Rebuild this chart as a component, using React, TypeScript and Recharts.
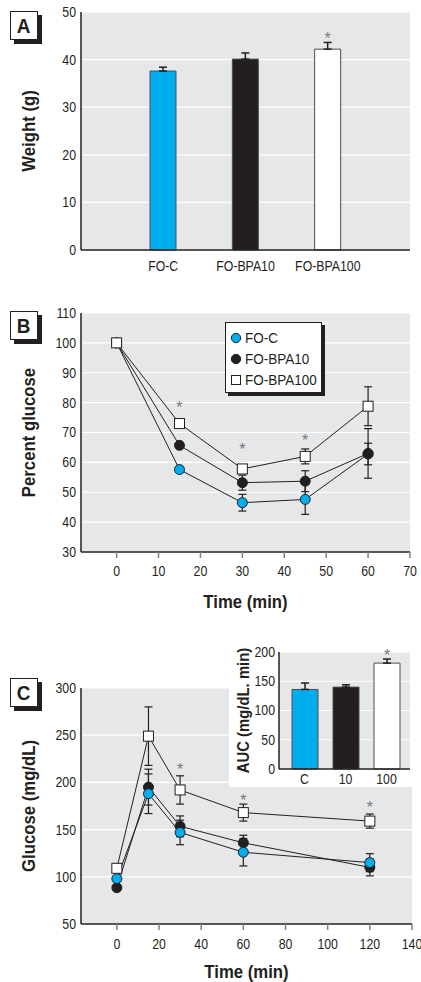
import React from "react";
import {
  Bar,
  BarChart,
  CartesianGrid,
  Cell,
  ComposedChart,
  ErrorBar,
  LabelList,
  Line,
  Scatter,
  XAxis,
  YAxis,
} from "recharts";

// no hay fuente condensada instalada: se estrecha Liberation Sans a mano
const FONT = '"Liberation Sans", Arial, sans-serif';
const SX = 0.88;
const SX_TIT = 0.93;
const INK = "#231f20";
const FONDO = "#e6e7e8";
const AZUL = "#00aeef";
const GRIS_EST = "#77787b";

// Panel A: peso
const gruposA = ["FO-C", "FO-BPA10", "FO-BPA100"];
const pesoA = [37.6, 40.1, 42.2];
const errA = [0.8, 1.3, 1.4];
const sigA = ["", "", "*"];
const coloresA = [AZUL, INK, "#ffffff"];
const ticksA = [0, 10, 20, 30, 40, 50];

// Panel B: porcentaje de glucosa
const tiemposB = [0, 15, 30, 45, 60];
const focB = [100, 57.6, 46.5, 47.6, 62.8];
const focBErr = [0.5, 0.5, 2.8, 5, 3.6];
const bpa10B = [100, 65.7, 53.2, 53.7, 63];
const bpa10BErr = [0.5, 0.5, 2.5, 3.5, 8.3];
const bpa100B = [100, 73, 57.8, 62, 78.8];
const bpa100BErr = [1, 0.5, 1.2, 2.5, 6.5];
const estrellasBT = [15, 30, 45];
const estrellasBY = [79.5, 65.5, 68.5];
const ticksBX = [0, 10, 20, 30, 40, 50, 60, 70];
const ticksBY = [30, 40, 50, 60, 70, 80, 90, 100, 110];

// Panel C: glucosa
const tiemposC = [0, 15, 30, 60, 120];
const focC = [98, 188, 147, 126, 115];
const focCErr = [3, 21, 13, 14.5, 9.5];
const bpa10C = [88.5, 195, 153.5, 136, 110];
const bpa10CErr = [2, 19, 11, 8, 9];
const bpa100C = [109, 249, 192, 168, 159];
const bpa100CErr = [2, 31, 15, 9, 7.5];
const estrellasCT = [30, 60, 120];
const estrellasCY = [217, 185, 177];
const ticksCX = [0, 20, 40, 60, 80, 100, 120, 140];
const ticksCY = [50, 100, 150, 200, 250, 300];

// Inserto: AUC
const gruposAUC = ["C", "10", "100"];
const auc = [136, 140, 181];
const aucErr = [11, 4, 7];
const sigAUC = ["", "", "*"];
const ticksAUC = [0, 50, 100, 150, 200];

const datosA = gruposA.map((g, i) => ({ g, v: pesoA[i], e: [0, errA[i]], s: sigA[i] }));
const datosB = tiemposB.map((t, i) => ({
  t,
  c: focB[i],
  ce: focBErr[i],
  b10: bpa10B[i],
  b10e: bpa10BErr[i],
  b100: bpa100B[i],
  b100e: bpa100BErr[i],
}));
const starsB = estrellasBT.map((t, i) => ({ t, y: estrellasBY[i] }));
const datosC = tiemposC.map((t, i) => ({
  t,
  c: focC[i],
  ce: focCErr[i],
  b10: bpa10C[i],
  b10e: bpa10CErr[i],
  b100: bpa100C[i],
  b100e: bpa100CErr[i],
}));
const starsC = estrellasCT.map((t, i) => ({ t, y: estrellasCY[i] }));
const datosAUC = gruposAUC.map((g, i) => ({ g, v: auc[i], e: [0, aucErr[i]], s: sigAUC[i] }));

const eje = { stroke: INK, strokeWidth: 1.5 };

const marca = (p: any) => {
  const dy = p.verticalAnchor === "start" ? "0.71em" : p.verticalAnchor === "end" ? "0" : "0.355em";
  return (
    <text
      transform={`translate(${p.x},${p.y}) scale(${SX},1)`}
      textAnchor={p.textAnchor}
      dy={dy}
      fontSize={14}
      fontFamily={FONT}
      fill={INK}
    >
      {p.payload.value}
    </text>
  );
};

function tituloY(texto: string, x: number, size = 18) {
  return (props: any) => {
    const vb = props.viewBox;
    const cy = vb.y + vb.height / 2;
    return (
      <text
        transform={`translate(${x},${cy}) rotate(-90) scale(${SX_TIT},1)`}
        textAnchor="middle"
        dy="0.36em"
        fontFamily={FONT}
        fontWeight="bold"
        fontSize={size}
        fill={INK}
      >
        {texto}
      </text>
    );
  };
}

function tituloX(texto: string, dy: number) {
  return (props: any) => {
    const vb = props.viewBox;
    return (
      <text
        transform={`translate(${vb.x + vb.width / 2},${vb.y + dy}) scale(${SX_TIT},1)`}
        textAnchor="middle"
        dy="0.36em"
        fontFamily={FONT}
        fontWeight="bold"
        fontSize={18}
        fill={INK}
      >
        {texto}
      </text>
    );
  };
}

const circulo = (fill: string) => (p: any) => {
  if (p.cx == null || p.cy == null) return <g key={p.key} />;
  return <circle key={p.key} cx={p.cx} cy={p.cy} r={5} fill={fill} stroke={INK} strokeWidth={1} />;
};

const cuadrado = (p: any) => {
  if (p.cx == null || p.cy == null) return <g key={p.key} />;
  return (
    <rect key={p.key} x={p.cx - 5} y={p.cy - 5} width={10} height={10} fill="#fff" stroke={INK} strokeWidth={1} />
  );
};

// el asterisco de Arial queda alto: se baja para centrarlo en el punto
const estrella = (p: any) => (
  <text x={p.cx} y={p.cy + 9} textAnchor="middle" fontSize={16} fontFamily={FONT} fill={GRIS_EST}>
    *
  </text>
);

const estrellaBarra = (dy: number) => (p: any) =>
  p.value ? (
    <text x={p.x + p.width / 2} y={p.y - dy + 9} textAnchor="middle" fontSize={16} fontFamily={FONT} fill={GRIS_EST}>
      {p.value}
    </text>
  ) : null;

function Etiqueta({ letra, top }: { letra: string; top: number }) {
  return (
    <div
      style={{
        position: "absolute",
        left: 10,
        top,
        width: 26,
        height: 27,
        border: `1px solid ${INK}`,
        boxShadow: `4px 4px 0 ${INK}`,
        background: "#fff",
        fontFamily: FONT,
        fontWeight: "bold",
        fontSize: 21,
        lineHeight: "27px",
        textAlign: "center",
        color: INK,
      }}
    >
      <span style={{ display: "inline-block", transform: "scaleX(0.9)" }}>{letra}</span>
    </div>
  );
}

const series = [
  { nombre: "FO-C", marca: "c" },
  { nombre: "FO-BPA10", marca: "b10" },
  { nombre: "FO-BPA100", marca: "b100" },
];

function Leyenda({ left, top }: { left: number; top: number }) {
  return (
    <div
      style={{
        position: "absolute",
        left,
        top,
        width: 97,
        height: 71,
        border: `1px solid ${INK}`,
        boxShadow: `3px 3px 0 ${INK}`,
        background: "#fff",
        fontFamily: FONT,
        fontSize: 15,
        color: INK,
        paddingTop: 4,
        boxSizing: "border-box",
      }}
    >
      {series.map((s) => (
        <div key={s.nombre} style={{ display: "flex", alignItems: "center", height: 21, paddingLeft: 4 }}>
          <svg width={12} height={12} style={{ marginRight: 3, flex: "none" }}>
            {s.marca === "b100" ? (
              <rect x={1.5} y={1.5} width={9} height={9} fill="#fff" stroke={INK} />
            ) : (
              <circle cx={6} cy={6} r={4.7} fill={s.marca === "c" ? AZUL : INK} stroke={INK} />
            )}
          </svg>
          <span style={{ display: "inline-block", transform: "scaleX(0.9)", transformOrigin: "left center", whiteSpace: "nowrap" }}>
            {s.nombre}
          </span>
        </div>
      ))}
    </div>
  );
}

export default function App() {
  return (
    <div style={{ position: "absolute", left: 0, top: 0, width: 421, height: 982, background: "#fff" }}>
      {/* A */}
      <div style={{ position: "absolute", left: 0, top: 0 }}>
        <BarChart width={421} height={290} data={datosA} margin={{ top: 12, right: 11, bottom: 15, left: 41 }}>
          <CartesianGrid vertical={false} horizontal stroke="#fff" strokeWidth={1.2} fill={FONDO} />
          <XAxis
            dataKey="g"
            padding={{ left: 41, right: 41 }}
            tick={marca}
            interval={0}
            tickLine={false}
            axisLine={eje}
            tickSize={0}
            tickMargin={11}
            height={25}
          />
          <YAxis
            domain={[0, 50]}
            ticks={ticksA}
            interval={0}
            tick={marca}
            tickLine={false}
            axisLine={eje}
            tickSize={3}
            tickMargin={2}
            width={40}
            label={tituloY("Weight (g)", 29)}
          />
          <Bar dataKey="v" barSize={26} stroke="#4d4d4f" strokeWidth={1} isAnimationActive={false}>
            {datosA.map((d, i) => (
              <Cell key={d.g} fill={coloresA[i]} />
            ))}
            <ErrorBar dataKey="e" width={4} stroke={INK} strokeWidth={1.5} />
            <LabelList dataKey="s" content={estrellaBarra(14)} />
          </Bar>
        </BarChart>
      </div>
      <Etiqueta letra="A" top={11} />

      {/* B */}
      <div style={{ position: "absolute", left: 0, top: 290 }}>
        <ComposedChart width={421} height={330} data={datosB} margin={{ top: 23, right: 11, bottom: 8, left: 41 }}>
          <CartesianGrid vertical={false} horizontal stroke="#fff" strokeWidth={1.2} fill={FONDO} />
          <XAxis
            dataKey="t"
            type="number"
            domain={[-8.5, 70]}
            ticks={ticksBX}
            interval={0}
            allowDataOverflow
            tick={marca}
            tickLine={{ stroke: "#808285", strokeWidth: 1.5 }}
            tickSize={6}
            tickMargin={8}
            axisLine={eje}
            height={60}
            label={tituloX("Time (min)", 50)}
          />
          <YAxis
            domain={[30, 110]}
            ticks={ticksBY}
            interval={0}
            tick={marca}
            tickLine={false}
            axisLine={eje}
            tickSize={3}
            tickMargin={2}
            width={40}
            allowDataOverflow
            label={tituloY("Percent glucose", 29)}
          />
          <Line dataKey="c" stroke={INK} strokeWidth={1} dot={circulo(AZUL)} isAnimationActive={false}>
            <ErrorBar dataKey="ce" width={4} stroke={INK} strokeWidth={1.2} direction="y" />
          </Line>
          <Line dataKey="b10" stroke={INK} strokeWidth={1} dot={circulo(INK)} isAnimationActive={false}>
            <ErrorBar dataKey="b10e" width={4} stroke={INK} strokeWidth={1.2} direction="y" />
          </Line>
          <Line dataKey="b100" stroke={INK} strokeWidth={1} dot={cuadrado} isAnimationActive={false}>
            <ErrorBar dataKey="b100e" width={4} stroke={INK} strokeWidth={1.2} direction="y" />
          </Line>
          <Scatter data={starsB} dataKey="y" shape={estrella} isAnimationActive={false} />
        </ComposedChart>
      </div>
      <Leyenda left={225} top={322} />
      <Etiqueta letra="B" top={311} />

      {/* C */}
      <div style={{ position: "absolute", left: 0, top: 620 }}>
        <ComposedChart width={421} height={362} data={datosC} margin={{ top: 68, right: 9, bottom: 3, left: 41 }}>
          <CartesianGrid vertical={false} horizontal stroke="#fff" strokeWidth={1.2} fill={FONDO} />
          <XAxis
            dataKey="t"
            type="number"
            domain={[-17, 140]}
            ticks={ticksCX}
            interval={0}
            allowDataOverflow
            tick={marca}
            tickLine={{ stroke: "#808285", strokeWidth: 1.5 }}
            tickSize={6}
            tickMargin={9}
            axisLine={eje}
            height={55}
            label={tituloX("Time (min)", 48)}
          />
          <YAxis
            domain={[50, 300]}
            ticks={ticksCY}
            interval={0}
            tick={marca}
            tickLine={false}
            axisLine={eje}
            tickSize={3}
            tickMargin={2}
            width={40}
            allowDataOverflow
            label={tituloY("Glucose (mg/dL)", 29)}
          />
          <Line dataKey="b10" stroke={INK} strokeWidth={1} dot={circulo(INK)} isAnimationActive={false}>
            <ErrorBar dataKey="b10e" width={4} stroke={INK} strokeWidth={1.2} direction="y" />
          </Line>
          <Line dataKey="c" stroke={INK} strokeWidth={1} dot={circulo(AZUL)} isAnimationActive={false}>
            <ErrorBar dataKey="ce" width={4} stroke={INK} strokeWidth={1.2} direction="y" />
          </Line>
          <Line dataKey="b100" stroke={INK} strokeWidth={1} dot={cuadrado} isAnimationActive={false}>
            <ErrorBar dataKey="b100e" width={4} stroke={INK} strokeWidth={1.2} direction="y" />
          </Line>
          <Scatter data={starsC} dataKey="y" shape={estrella} isAnimationActive={false} />
        </ComposedChart>
      </div>
      <Etiqueta letra="C" top={678} />

      {/* Inserto AUC */}
      <div style={{ position: "absolute", left: 229, top: 645, background: "#fff" }}>
        <BarChart width={183} height={142} data={datosAUC} margin={{ top: 7, right: 2, bottom: 0, left: 0 }}>
          <CartesianGrid vertical={false} horizontal stroke="#fff" strokeWidth={1.2} fill={FONDO} />
          <XAxis
            dataKey="g"
            padding={{ left: 5, right: 3 }}
            tick={marca}
            interval={0}
            tickLine={false}
            axisLine={eje}
            tickSize={0}
            tickMargin={5}
            height={18}
          />
          <YAxis
            domain={[0, 200]}
            ticks={ticksAUC}
            interval={0}
            tick={marca}
            tickLine={false}
            axisLine={eje}
            tickSize={2}
            tickMargin={2}
            width={50}
            label={tituloY("AUC (mg/dL. min)", 14, 16)}
          />
          <Bar dataKey="v" barSize={26} stroke="#4d4d4f" strokeWidth={1} isAnimationActive={false}>
            {datosAUC.map((d, i) => (
              <Cell key={d.g} fill={coloresA[i]} />
            ))}
            <ErrorBar dataKey="e" width={4} stroke={INK} strokeWidth={1.5} />
            <LabelList dataKey="s" content={estrellaBarra(11)} />
          </Bar>
        </BarChart>
      </div>
    </div>
  );
}
